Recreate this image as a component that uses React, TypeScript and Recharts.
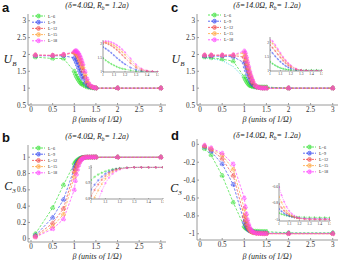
import { Line, LineChart, XAxis, YAxis } from 'recharts'

const SERIF = '"Liberation Serif", "DejaVu Serif", serif'
const SANS = '"Liberation Sans", Arial, sans-serif'

const SERIES_LABELS = ['L=6', 'L=9', 'L=12', 'L=15', 'L=18']
const SERIES_COLORS = ['#2ee02e', '#3346f0', '#f04848', '#ffa43c', '#ff3cff']
const EXTRA_COLOR = '#22c8d8'

const X_TICKS = [0, 0.5, 1, 1.5, 2, 2.5, 3]
const INSET_X_TICKS = [1, 1.1, 1.2, 1.3, 1.4, 1.5]
const UB_TICKS = [0.5, 1, 1.5, 2, 2.5, 3]
const C3_POS_TICKS = [0, 0.2, 0.4, 0.6, 0.8, 1]
const C3_NEG_TICKS = [0, -0.2, -0.4, -0.6, -0.8, -1]
const UB_INSET_TICKS = [1, 1.5, 2]
const C3_POS_INSET_TICKS = [0.8, 0.9, 1]
const C3_NEG_INSET_TICKS = [-1, -0.8, -0.6]

// beta grid (units of 1/Omega)
const betaAB = [0.1, 0.5, 0.75, 1, 1.025, 1.05, 1.075, 1.1, 1.125, 1.15, 1.175, 1.2, 1.25, 1.3, 1.35, 1.4, 1.45, 1.5, 2, 3]
const betaCD = [0.1, 0.25, 0.5, 0.75, 1, 1.025, 1.05, 1.075, 1.1, 1.125, 1.15, 1.175, 1.2, 1.25, 1.3, 1.35, 1.4, 1.45, 1.5, 2, 3]

// a: U_B, delta = 4.0
const ubD4L6 = [1.92, 1.88, 1.88, 1.5, 1.42, 1.35, 1.29, 1.24, 1.19, 1.15, 1.12, 1.1, 1.06, 1.03, 1.02, 1.01, 1.0, 1.0, 1.0, 1.0]
const ubD4L9 = [1.96, 1.96, 1.96, 1.9, 1.84, 1.77, 1.69, 1.6, 1.51, 1.43, 1.35, 1.28, 1.16, 1.08, 1.04, 1.02, 1.01, 1.0, 1.0, 1.0]
const ubD4L12 = [1.98, 1.97, 1.99, 2.05, 2.04, 2.0, 1.95, 1.88, 1.8, 1.71, 1.61, 1.51, 1.32, 1.16, 1.07, 1.03, 1.01, 1.0, 1.0, 1.0]
const ubD4L15 = [1.98, 1.97, 1.99, 2.07, 2.07, 2.05, 2.01, 1.96, 1.89, 1.81, 1.72, 1.62, 1.41, 1.21, 1.1, 1.04, 1.02, 1.0, 1.0, 1.0]
const ubD4L18 = [1.98, 1.97, 2.0, 2.08, 2.11, 2.1, 2.07, 2.03, 1.97, 1.9, 1.81, 1.71, 1.49, 1.27, 1.12, 1.05, 1.02, 1.0, 1.0, 1.0]

// b: C_3, delta = 4.0
const c3D4L6 = [0.06, 0.38, 0.66, 0.92, 0.94, 0.955, 0.966, 0.975, 0.982, 0.988, 0.992, 0.995, 0.998, 1, 1, 1, 1, 1, 1, 1]
const c3D4L9 = [0.04, 0.26, 0.48, 0.86, 0.89, 0.918, 0.942, 0.96, 0.973, 0.983, 0.99, 0.994, 0.998, 1, 1, 1, 1, 1, 1, 1]
const c3D4L12 = [0.03, 0.19, 0.37, 0.82, 0.857, 0.892, 0.922, 0.946, 0.965, 0.978, 0.987, 0.993, 0.998, 1, 1, 1, 1, 1, 1, 1]
const c3D4L15 = [0.02, 0.15, 0.3, 0.76, 0.81, 0.855, 0.895, 0.928, 0.952, 0.97, 0.982, 0.99, 0.997, 1, 1, 1, 1, 1, 1, 1]
const c3D4L18 = [0.02, 0.12, 0.24, 0.6, 0.71, 0.79, 0.85, 0.9, 0.935, 0.96, 0.976, 0.987, 0.996, 1, 1, 1, 1, 1, 1, 1]

// c: U_B, delta = 14.0
const ubD14L6 = [1.92, 1.9, 1.86, 1.8, 1.33, 1.26, 1.2, 1.15, 1.11, 1.08, 1.06, 1.05, 1.04, 1.03, 1.03, 1.03, 1.03, 1.03, 1.03, 1.0, 1.0]
const ubD14Aux = [1.9, 1.88, 1.82, 1.64, 1.3, 1.25, 1.19, 1.14, 1.1, 1.08, 1.06, 1.05, 1.04, 1.03, 1.03, 1.03, 1.03, 1.03, 1.03, 1.0, 1.0]
const ubD14L9 = [1.95, 1.95, 1.95, 1.93, 1.75, 1.63, 1.52, 1.42, 1.33, 1.25, 1.18, 1.13, 1.09, 1.04, 1.02, 1.01, 1.0, 1.0, 1.0, 1.0, 1.0]
const ubD14L12 = [1.97, 1.97, 1.97, 1.97, 1.92, 1.82, 1.71, 1.59, 1.48, 1.37, 1.28, 1.2, 1.14, 1.06, 1.02, 1.01, 1.0, 1.0, 1.0, 1.0, 1.0]
const ubD14L15 = [1.98, 1.98, 1.98, 1.98, 2.05, 1.97, 1.85, 1.72, 1.59, 1.46, 1.35, 1.26, 1.18, 1.07, 1.03, 1.01, 1.0, 1.0, 1.0, 1.0, 1.0]
const ubD14L18 = [1.98, 1.98, 1.98, 1.99, 2.1, 2.05, 1.92, 1.78, 1.64, 1.5, 1.38, 1.28, 1.2, 1.08, 1.03, 1.01, 1.0, 1.0, 1.0, 1.0, 1.0]

// d: C_3, delta = 14.0
const c3D14L6 = [-0.05, -0.12, -0.35, -0.65, -0.92, -0.935, -0.945, -0.953, -0.96, -0.964, -0.967, -0.969, -0.971, -0.973, -0.974, -0.975, -0.976, -0.976, -0.977, -0.99, -0.99]
const c3D14L9 = [-0.03, -0.08, -0.22, -0.45, -0.87, -0.9, -0.925, -0.945, -0.958, -0.968, -0.975, -0.98, -0.984, -0.988, -0.99, -0.991, -0.992, -0.992, -0.993, -0.995, -0.995]
const c3D14L12 = [-0.02, -0.06, -0.16, -0.35, -0.81, -0.855, -0.893, -0.923, -0.945, -0.962, -0.974, -0.982, -0.988, -0.994, -0.996, -0.997, -0.998, -0.998, -0.998, -1, -1]
const c3D14L15 = [-0.02, -0.05, -0.12, -0.28, -0.72, -0.79, -0.85, -0.895, -0.928, -0.952, -0.968, -0.979, -0.987, -0.994, -0.997, -0.998, -0.999, -1, -1, -1, -1]
const c3D14L18 = [-0.01, -0.04, -0.1, -0.22, -0.6, -0.7, -0.78, -0.845, -0.895, -0.93, -0.955, -0.972, -0.983, -0.993, -0.997, -0.998, -0.999, -1, -1, -1, -1]

type Row = Record<string, number>

function buildRows(beta: number[], series: number[][]): Row[] {
  return beta.map((b, i) => {
    const row: Row = { beta: b }
    series.forEach((s, k) => {
      row[`s${k}`] = s[i]
    })
    return row
  })
}

const insetRows = (rows: Row[]) => rows.filter((r) => r.beta >= 1 && r.beta <= 1.5)

const rowsA = buildRows(betaAB, [ubD4L6, ubD4L9, ubD4L12, ubD4L15, ubD4L18])
const rowsB = buildRows(betaAB, [c3D4L6, c3D4L9, c3D4L12, c3D4L15, c3D4L18])
const rowsC = buildRows(betaCD, [ubD14L6, ubD14L9, ubD14L12, ubD14L15, ubD14L18, ubD14Aux])
const rowsD = buildRows(betaCD, [c3D14L6, c3D14L9, c3D14L12, c3D14L15, c3D14L18])

interface Box {
  x: number
  y: number
  w: number
  h: number
}

interface PlotProps {
  rows: Row[]
  box: Box
  xDomain: [number, number]
  xTicks: number[]
  yDomain: [number, number]
  yTicks: number[]
  small?: boolean
  aux?: boolean
}

const FRAME = '#9a9a9a'

function Plot({ rows, box, xDomain, xTicks, yDomain, yTicks, small = false, aux = false }: Readonly<PlotProps>) {
  const axisW = small ? 9 : 20
  const axisH = small ? 6 : 11
  const tickStyle = { fontSize: small ? 3.6 : 7.2, fontFamily: SERIF, fill: '#333' }
  const r = small ? 0.9 : 2.1
  return (
    <div
      style={{
        position: 'absolute',
        left: box.x - axisW,
        top: box.y - 1,
        background: small ? '#fff' : 'transparent'
      }}
    >
      <LineChart
        width={box.w + axisW + 1}
        height={box.h + axisH + 1}
        data={rows}
        margin={{ top: 1, right: 1, bottom: 0, left: 0 }}
      >
        <XAxis
          dataKey='beta'
          type='number'
          domain={xDomain}
          ticks={xTicks}
          interval={0}
          allowDataOverflow
          height={axisH}
          stroke={FRAME}
          tick={tickStyle}
          tickSize={small ? -1 : -2}
          tickMargin={small ? 2 : 3.5}
        />
        <XAxis
          xAxisId='top'
          orientation='top'
          dataKey='beta'
          type='number'
          domain={xDomain}
          allowDataOverflow
          height={0}
          stroke={FRAME}
          tick={false}
        />
        <YAxis
          type='number'
          domain={yDomain}
          ticks={yTicks}
          interval={0}
          allowDataOverflow
          width={axisW}
          stroke={FRAME}
          tick={tickStyle}
          tickSize={small ? -1 : -2}
          tickMargin={small ? 2 : 4}
        />
        <YAxis
          yAxisId='right'
          orientation='right'
          type='number'
          domain={yDomain}
          allowDataOverflow
          width={0}
          stroke={FRAME}
          tick={false}
        />
        {aux ? (
          <Line
            dataKey='s5'
            stroke={EXTRA_COLOR}
            strokeWidth={small ? 0.5 : 0.8}
            strokeDasharray='1 1.5'
            dot={false}
            activeDot={false}
            isAnimationActive={false}
          />
        ) : null}
        {SERIES_COLORS.map((color, k) => (
          <Line
            key={SERIES_LABELS[k]}
            dataKey={`s${k}`}
            stroke={color}
            strokeOpacity={0.85}
            strokeWidth={small ? 0.5 : 0.8}
            strokeDasharray={small ? '1.5 1' : '2.5 1.5'}
            dot={{ r, fill: color, fillOpacity: 0.45, stroke: color, strokeWidth: small ? 0.3 : 0.6 }}
            activeDot={false}
            isAnimationActive={false}
          />
        ))}
      </LineChart>
    </div>
  )
}

function LegendBlock({ x, y }: Readonly<{ x: number; y: number }>) {
  return (
    <g>
      {SERIES_LABELS.map((label, k) => {
        const cy = y + k * 6.2
        const color = SERIES_COLORS[k]
        return (
          <g key={label}>
            <line x1={x} x2={x + 13} y1={cy} y2={cy} stroke={color} strokeWidth={0.8} strokeDasharray='2 1' />
            <circle cx={x + 6.5} cy={cy} r={2} fill={color} fillOpacity={0.5} stroke={color} strokeWidth={0.5} />
            <text x={x + 16} y={cy + 1.5} fontSize={4.2} fontFamily={SERIF} fill='#222'>
              {label}
            </text>
          </g>
        )
      })}
    </g>
  )
}

function Title({ x, y, delta }: Readonly<{ x: number; y: number; delta: string }>) {
  return (
    <text x={x} y={y} textAnchor='middle' fontSize={8} fontStyle='italic' fontFamily={SERIF} fill='#222'>
      (δ={delta}Ω, R<tspan fontSize={5.5} dy={1.5}>b</tspan>
      <tspan dy={-1.5}>= 1.2a)</tspan>
    </text>
  )
}

function XLabel({ x, y }: Readonly<{ x: number; y: number }>) {
  return (
    <text x={x} y={y} textAnchor='middle' fontSize={8} fontStyle='italic' fontFamily={SERIF} fill='#222'>
      β (units of 1/Ω)
    </text>
  )
}

function YLabel({ x, y, main, sub }: Readonly<{ x: number; y: number; main: string; sub: string }>) {
  return (
    <text x={x} y={y} textAnchor='middle' fontSize={12} fontStyle='italic' fontFamily={SERIF} fill='#222'>
      {main}
      <tspan fontSize={7} dy={2.5}>
        {sub}
      </tspan>
    </text>
  )
}

function Letter({ x, y, children }: Readonly<{ x: number; y: number; children: string }>) {
  return (
    <text x={x} y={y} fontSize={13} fontWeight='bold' fontFamily={SANS} fill='#111'>
      {children}
    </text>
  )
}

const X_DOMAIN: [number, number] = [-0.07, 3.12]
const INSET_X_DOMAIN: [number, number] = [1, 1.5]

export default function App() {
  return (
    <div
      style={{
        position: 'absolute',
        left: 0,
        top: 0,
        width: 341,
        height: 260,
        background: '#fff',
        overflow: 'hidden'
      }}
    >
      <Plot rows={rowsA} box={{ x: 28, y: 14, w: 138, h: 91 }} xDomain={X_DOMAIN} xTicks={X_TICKS} yDomain={[0.5, 3.2]} yTicks={UB_TICKS} />
      <Plot
        rows={insetRows(rowsA)}
        box={{ x: 103, y: 40, w: 55, h: 32 }}
        xDomain={INSET_X_DOMAIN}
        xTicks={INSET_X_TICKS}
        yDomain={[1, 2.15]}
        yTicks={UB_INSET_TICKS}
        small
      />
      <Plot rows={rowsB} box={{ x: 28, y: 145, w: 138, h: 97 }} xDomain={X_DOMAIN} xTicks={X_TICKS} yDomain={[-0.04, 1.15]} yTicks={C3_POS_TICKS} />
      <Plot
        rows={insetRows(rowsB)}
        box={{ x: 91, y: 165, w: 72, h: 34 }}
        xDomain={INSET_X_DOMAIN}
        xTicks={INSET_X_TICKS}
        yDomain={[0.8, 1.015]}
        yTicks={C3_POS_INSET_TICKS}
        small
      />
      <Plot rows={rowsC} box={{ x: 197, y: 14, w: 141, h: 91 }} xDomain={X_DOMAIN} xTicks={X_TICKS} yDomain={[0.5, 3.2]} yTicks={UB_TICKS} aux />
      <Plot
        rows={insetRows(rowsC)}
        box={{ x: 270, y: 37, w: 52, h: 34 }}
        xDomain={INSET_X_DOMAIN}
        xTicks={INSET_X_TICKS}
        yDomain={[1, 2.2]}
        yTicks={UB_INSET_TICKS}
        small
        aux
      />
      <Plot rows={rowsD} box={{ x: 197, y: 139, w: 141, h: 101 }} xDomain={X_DOMAIN} xTicks={X_TICKS} yDomain={[-1.07, 0.06]} yTicks={C3_NEG_TICKS} />
      <Plot
        rows={insetRows(rowsD)}
        box={{ x: 279, y: 183, w: 51, h: 38 }}
        xDomain={INSET_X_DOMAIN}
        xTicks={INSET_X_TICKS}
        yDomain={[-1.02, -0.55]}
        yTicks={C3_NEG_INSET_TICKS}
        small
      />
      <svg width={341} height={260} style={{ position: 'absolute', left: 0, top: 0, pointerEvents: 'none' }}>
        <Letter x={2} y={12}>a</Letter>
        <Letter x={2} y={142}>b</Letter>
        <Letter x={171} y={12}>c</Letter>
        <Letter x={171} y={140}>d</Letter>
        <Title x={97} y={8} delta='4.0' />
        <Title x={97} y={139} delta='4.0' />
        <Title x={267} y={8} delta='14.0' />
        <Title x={267} y={138} delta='14.0' />
        <XLabel x={97} y={122} />
        <XLabel x={97} y={259} />
        <XLabel x={267} y={122} />
        <XLabel x={267} y={259} />
        <YLabel x={10} y={63} main='U' sub='B' />
        <YLabel x={10} y={190} main='C' sub='3' />
        <YLabel x={178} y={63} main='U' sub='B' />
        <YLabel x={176} y={192} main='C' sub='3' />
        <LegendBlock x={32} y={16} />
        <LegendBlock x={32} y={148} />
        <LegendBlock x={208} y={15} />
        <LegendBlock x={303} y={147} />
      </svg>
    </div>
  )
}
